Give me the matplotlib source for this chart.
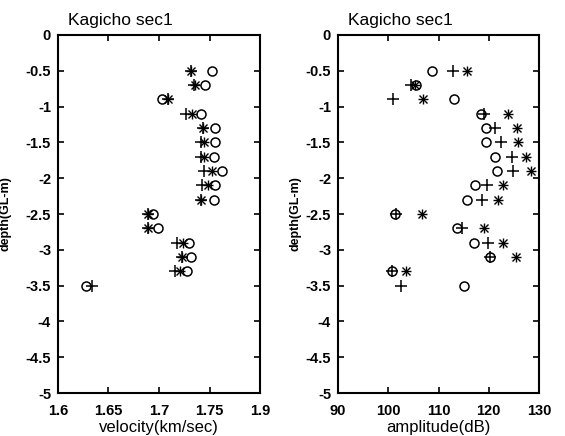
import numpy as np
import matplotlib
matplotlib.use('Agg')
import matplotlib.pyplot as plt
from matplotlib.ticker import FuncFormatter

plt.rcParams['font.family'] = ['Liberation Sans', 'DejaVu Sans']
plt.rcParams['axes.unicode_minus'] = False

# depth levels (GL-m)
depth = [-0.5, -0.7, -0.9, -1.1, -1.3, -1.5, -1.7, -1.9,
         -2.1, -2.3, -2.5, -2.7, -2.9, -3.1, -3.3, -3.5]

# velocity (km/sec), three shots: o, +, *
vel_o = [1.752, 1.7455, 1.703, 1.7415, 1.7555, 1.755, 1.754, 1.762,
         1.7555, 1.754, 1.694, 1.699, 1.730, 1.732, 1.728, 1.628]
vel_p = [1.732, 1.7345, 1.709, 1.727, 1.744, 1.742, 1.742, 1.745,
         1.7425, 1.742, 1.689, 1.689, 1.718, 1.723, 1.7155, 1.634]
vel_s = [1.732, 1.7355, 1.709, 1.7327, 1.744, 1.7445, 1.7447, 1.752,
         1.7487, 1.742, 1.689, 1.689, 1.7237, 1.723, 1.7203, np.nan]

# amplitude (dB)
amp_o = [108.7, 105.5, 113.0, 118.5, 119.5, 119.5, 121.2, 121.7,
         117.3, 115.7, 101.3, 113.6, 117.1, 120.2, 100.7, 115.1]
amp_p = [112.8, 104.5, 100.9, 119.1, 121.2, 122.4, 124.6, 124.9,
         119.6, 118.6, 101.5, 114.6, 119.9, 120.2, 100.8, 102.5]
amp_s = [115.7, 105.3, 107.0, 123.9, 125.6, 125.8, 127.5, 128.5,
         122.8, 121.9, 106.7, 119.1, 122.8, 125.4, 103.5, np.nan]

vel_ticks = [1.6, 1.65, 1.7, 1.75, 1.8]
vel_labels = ['1.6', '1.65', '1.7', '1.75', '1.9']
amp_ticks = [90, 100, 110, 120, 130]
depth_ticks = [0, -0.5, -1, -1.5, -2, -2.5, -3, -3.5, -4, -4.5, -5]

fig = plt.figure(figsize=(5.65, 4.36), dpi=100)
ax1 = fig.add_axes([58 / 565, 43 / 436, 202 / 565, 358 / 436])
ax2 = fig.add_axes([338 / 565, 43 / 436, 201 / 565, 358 / 436])


def draw(ax, xo, xp, xs):
    ax.plot(xo, depth, 'o', ms=6.5, mfc='none', mec='black', mew=1.1)
    ax.plot(xp, depth, '+', ms=8, mec='black', mew=1.1)
    ax.plot(xs, depth, '+', ms=7, mec='black', mew=1.0)
    ax.plot(xs, depth, 'x', ms=5.5, mec='black', mew=1.0)


draw(ax1, vel_o, vel_p, vel_s)
draw(ax2, amp_o, amp_p, amp_s)

ax1.set_xlim(1.6, 1.8)
ax1.set_xticks(vel_ticks)
ax1.set_xticklabels(vel_labels)
ax2.set_xlim(90, 130)
ax2.set_xticks(amp_ticks)

for ax in (ax1, ax2):
    ax.set_ylim(-5, 0)
    ax.set_yticks(depth_ticks)
    ax.yaxis.set_major_formatter(FuncFormatter(lambda v, p: '%g' % v))
    ax.tick_params(direction='in', length=4, width=1.2, top=True, right=True,
                   labelsize=10.5)
    ax.tick_params(axis='x', pad=8)
    ax.tick_params(axis='y', pad=5)
    for lab in ax.get_xticklabels() + ax.get_yticklabels():
        lab.set_fontweight('bold')
    for sp in ax.spines.values():
        sp.set_linewidth(1.5)
    ax.set_title('Kagicho sec1', fontsize=12.5, x=0.31, pad=7)

ax1.set_ylabel('depth(GL-m)', fontsize=9, fontweight='bold', labelpad=10)
ax2.set_ylabel('depth(GL-m)', fontsize=9, fontweight='bold', labelpad=3)
ax1.set_xlabel('velocity(km/sec)', fontsize=12, labelpad=1.5)
ax2.set_xlabel('amplitude(dB)', fontsize=12, labelpad=1.5)

fig.savefig('out.png', dpi=100)
